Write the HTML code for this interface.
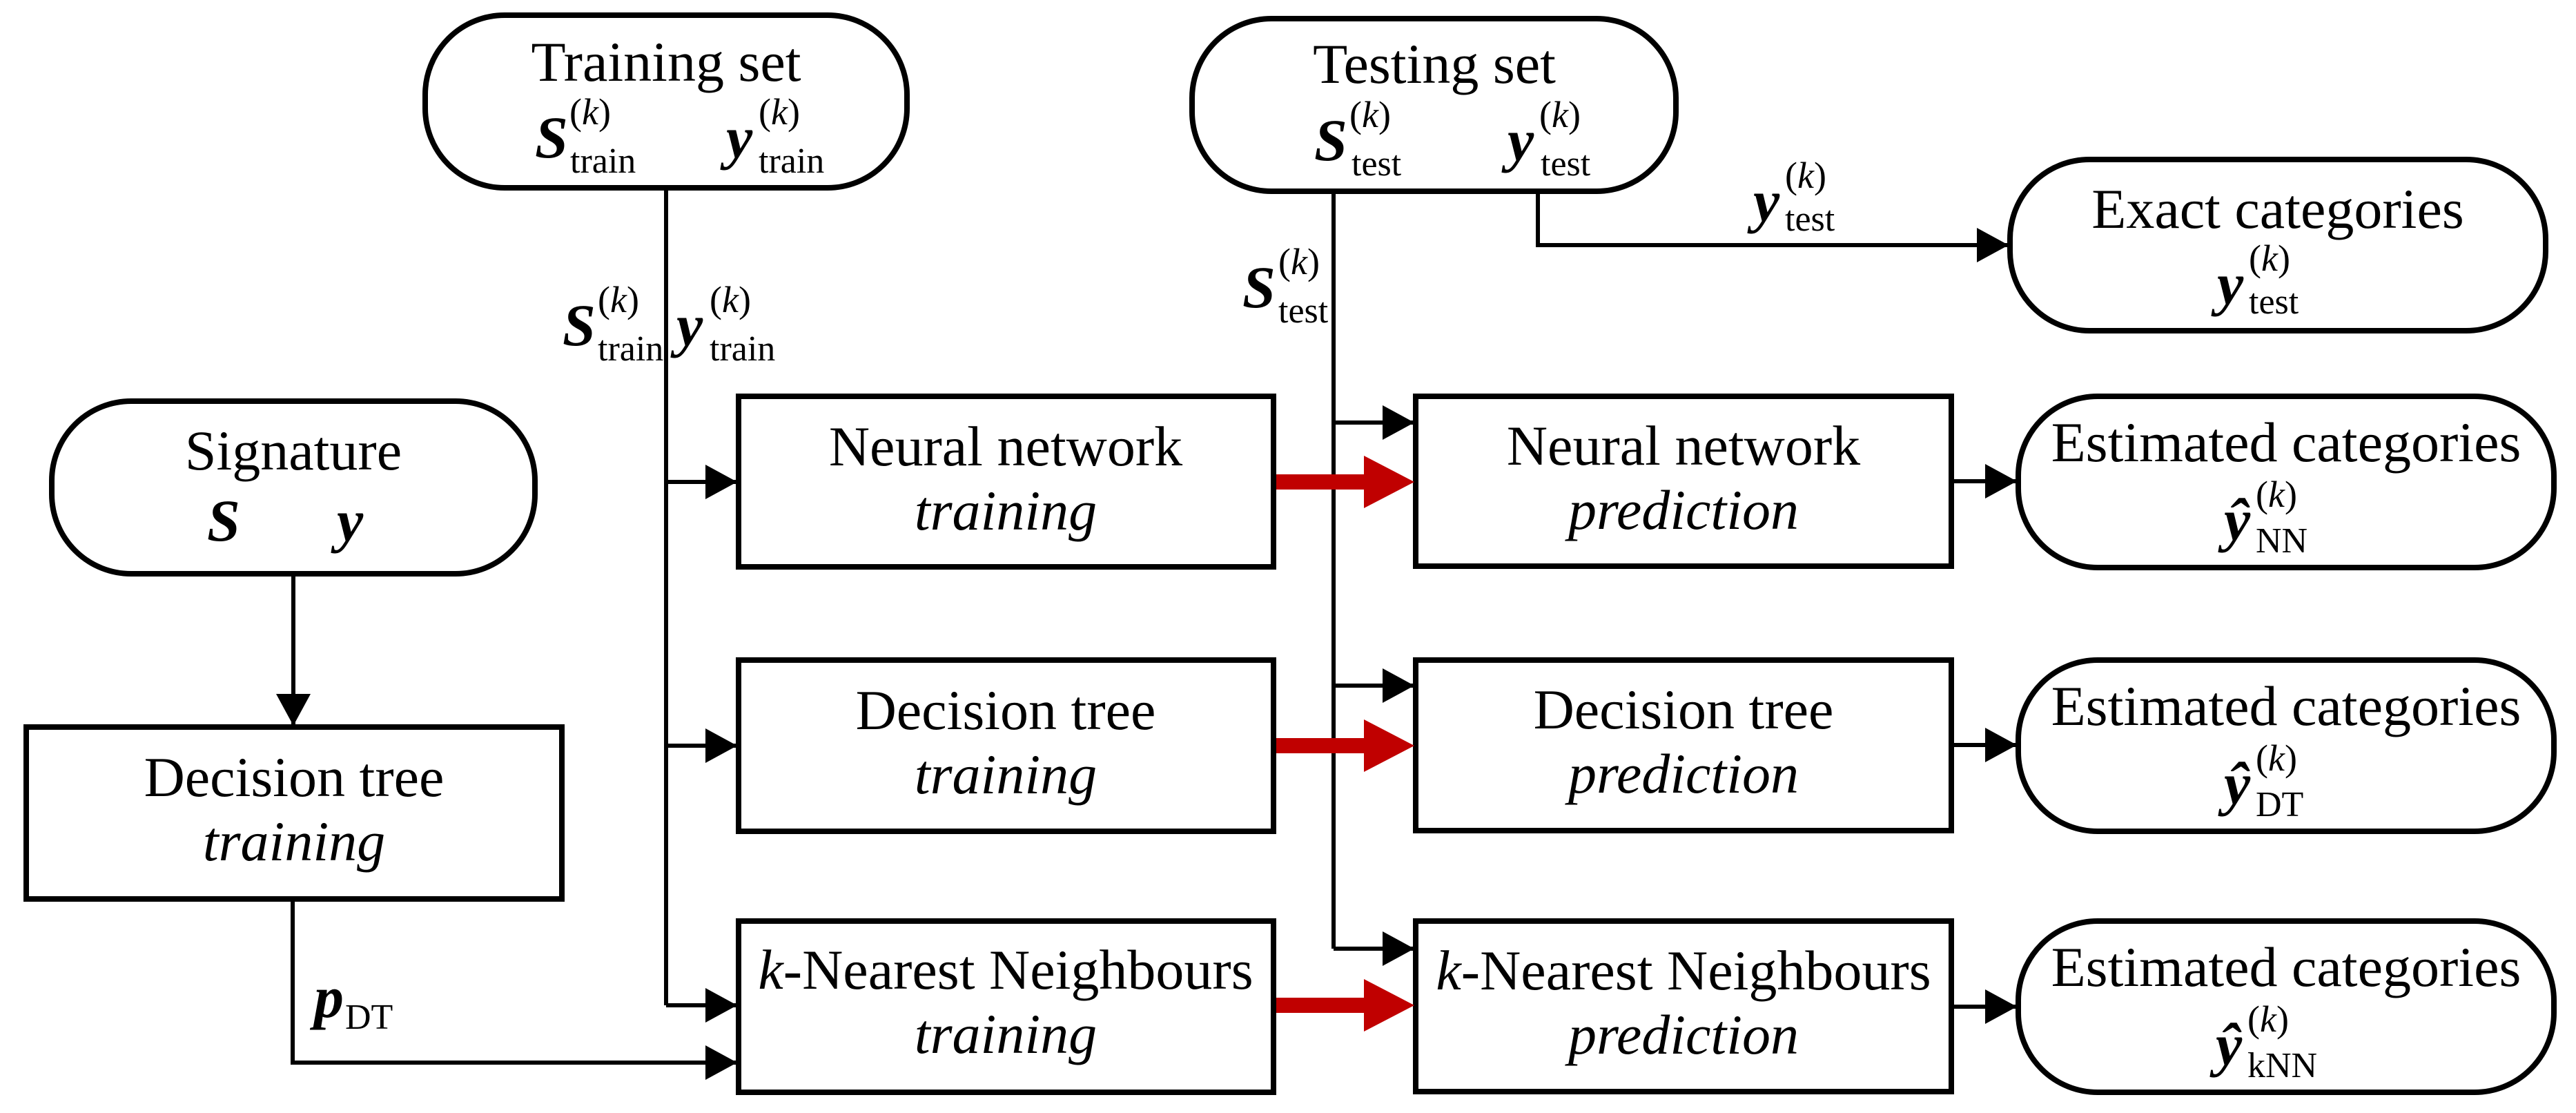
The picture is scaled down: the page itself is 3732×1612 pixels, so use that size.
<!DOCTYPE html>
<html><head><meta charset="utf-8"><style>
html,body{margin:0;padding:0;background:#fff}
svg{display:block}
text{font-family:"Liberation Serif",serif;fill:#000}
.t{font-size:82px;text-anchor:middle}
.i{font-size:82px;text-anchor:middle;font-style:italic}
.m{font-size:86px;font-weight:bold;font-style:italic}
.sp{font-size:54px;font-style:normal;font-weight:normal}
.sb{font-size:52px;font-style:normal;font-weight:normal}
</style></head><body>
<svg width="3732" height="1612" viewBox="0 0 3732 1612" xmlns="http://www.w3.org/2000/svg">
<defs>
<marker id="a" markerUnits="userSpaceOnUse" markerWidth="46" markerHeight="50" refX="44" refY="25" orient="auto"><path d="M0,0 L46,25 L0,50 Z" fill="#000"/></marker>
</defs>
<g fill="none" stroke="#000" stroke-width="8">
<rect x="616" y="22" width="698" height="250" rx="115"/>
<rect x="1727" y="27" width="701" height="250" rx="115"/>
<rect x="2912" y="231" width="776" height="248" rx="115"/>
<rect x="75" y="581" width="700" height="250" rx="115"/>
<rect x="38" y="1053" width="776" height="249"/>
<rect x="1070" y="574" width="775" height="247"/>
<rect x="1070" y="956" width="775" height="248"/>
<rect x="1070" y="1334" width="775" height="248"/>
<rect x="2051" y="574" width="776" height="246"/>
<rect x="2051" y="956" width="776" height="247"/>
<rect x="2051" y="1334" width="776" height="247"/>
<rect x="2924" y="574" width="776" height="248" rx="115"/>
<rect x="2924" y="956" width="776" height="248" rx="115"/>
<rect x="2924" y="1334" width="776" height="248" rx="115"/>
</g>
<g fill="none" stroke="#000" stroke-width="6">
<line x1="965" y1="272" x2="965" y2="1456"/>
<line x1="965" y1="698" x2="1066" y2="698" marker-end="url(#a)"/>
<line x1="965" y1="1080" x2="1066" y2="1080" marker-end="url(#a)"/>
<line x1="965" y1="1456" x2="1066" y2="1456" marker-end="url(#a)"/>
<line x1="1932" y1="277" x2="1932" y2="1374"/>
<line x1="1932" y1="612" x2="2047" y2="612" marker-end="url(#a)"/>
<line x1="1932" y1="993" x2="2047" y2="993" marker-end="url(#a)"/>
<line x1="1932" y1="1374" x2="2047" y2="1374" marker-end="url(#a)"/>
<polyline points="2228,277 2228,355 2908,355" marker-end="url(#a)"/>
<line x1="425" y1="831" x2="425" y2="1049" marker-end="url(#a)"/>
<polyline points="424,1302 424,1539 1066,1539" marker-end="url(#a)"/>
<line x1="2827" y1="697" x2="2920" y2="697" marker-end="url(#a)"/>
<line x1="2827" y1="1079" x2="2920" y2="1079" marker-end="url(#a)"/>
<line x1="2827" y1="1458" x2="2920" y2="1458" marker-end="url(#a)"/>
</g>
<g fill="#c00000">
<path d="M1849,687 L1976,687 L1976,660 L2049,698 L1976,736 L1976,709 L1849,709 Z"/>
<path d="M1849,1069 L1976,1069 L1976,1042 L2049,1080 L1976,1118 L1976,1091 L1849,1091 Z"/>
<path d="M1849,1445 L1976,1445 L1976,1418 L2049,1456 L1976,1494 L1976,1467 L1849,1467 Z"/>
</g>
<text class="t" x="965" y="117">Training set</text>
<text class="t" x="2078" y="120">Testing set</text>
<text class="t" x="3300" y="330">Exact categories</text>
<text class="t" x="425" y="680">Signature</text>
<text class="m" x="300" y="783">S</text><text class="m" x="488" y="783">y</text>
<text class="t" x="426" y="1153">Decision tree</text><text class="i" x="426" y="1246">training</text>
<text class="t" x="1457" y="674">Neural network</text><text class="i" x="1457" y="767">training</text>
<text class="t" x="1457" y="1056">Decision tree</text><text class="i" x="1457" y="1149">training</text>
<text class="t" x="1457" y="1432"><tspan font-style="italic">k</tspan>-Nearest Neighbours</text><text class="i" x="1457" y="1525">training</text>
<text class="t" x="2439" y="673">Neural network</text><text class="i" x="2439" y="766">prediction</text>
<text class="t" x="2439" y="1055">Decision tree</text><text class="i" x="2439" y="1148">prediction</text>
<text class="t" x="2439" y="1433"><tspan font-style="italic">k</tspan>-Nearest Neighbours</text><text class="i" x="2439" y="1526">prediction</text>
<text class="t" x="3312" y="668">Estimated categories</text>
<text class="t" x="3312" y="1050">Estimated categories</text>
<text class="t" x="3312" y="1428">Estimated categories</text>
<g>
<text class="m" x="775" y="228">S</text><text class="sp" x="825" y="180">(<tspan font-style="italic">k</tspan>)</text><text class="sb" x="826" y="250">train</text>
<text class="m" x="1052" y="228">y</text><text class="sp" x="1099" y="180">(<tspan font-style="italic">k</tspan>)</text><text class="sb" x="1099" y="250">train</text>
<text class="m" x="1904" y="232">S</text><text class="sp" x="1955" y="184">(<tspan font-style="italic">k</tspan>)</text><text class="sb" x="1958" y="254">test</text>
<text class="m" x="2184" y="232">y</text><text class="sp" x="2230" y="184">(<tspan font-style="italic">k</tspan>)</text><text class="sb" x="2232" y="254">test</text>
<text class="m" x="2540" y="320">y</text><text class="sp" x="2586" y="272">(<tspan font-style="italic">k</tspan>)</text><text class="sb" x="2586" y="334">test</text>
<text class="m" x="3212" y="440">y</text><text class="sp" x="3258" y="392">(<tspan font-style="italic">k</tspan>)</text><text class="sb" x="3258" y="454">test</text>
<text class="m" x="815" y="500">S</text><text class="sp" x="866" y="452">(<tspan font-style="italic">k</tspan>)</text><text class="sb" x="866" y="522">train</text>
<text class="m" x="980" y="500">y</text><text class="sp" x="1028" y="452">(<tspan font-style="italic">k</tspan>)</text><text class="sb" x="1028" y="522">train</text>
<text class="m" x="1800" y="445">S</text><text class="sp" x="1852" y="397">(<tspan font-style="italic">k</tspan>)</text><text class="sb" x="1852" y="467">test</text>
<text class="m" x="455" y="1473">p</text><text class="sb" x="500" y="1490">DT</text>
<text class="m" x="3222" y="782">ŷ</text><text class="sp" x="3268" y="734">(<tspan font-style="italic">k</tspan>)</text><text class="sb" x="3268" y="800">NN</text>
<text class="m" x="3222" y="1164">ŷ</text><text class="sp" x="3268" y="1116">(<tspan font-style="italic">k</tspan>)</text><text class="sb" x="3268" y="1182">DT</text>
<text class="m" x="3210" y="1542">ŷ</text><text class="sp" x="3256" y="1494">(<tspan font-style="italic">k</tspan>)</text><text class="sb" x="3256" y="1560">kNN</text>
</g>
</svg>
</body></html>
